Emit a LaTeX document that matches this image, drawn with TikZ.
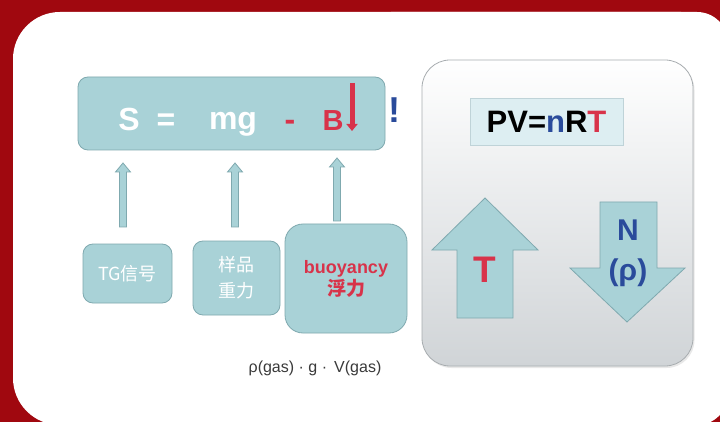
\documentclass[tikz,border=0pt]{standalone}
\usepackage{fontspec}
\setmainfont{Liberation Sans}
\newfontfamily\cjk{Noto Sans CJK SC}
\usetikzlibrary{arrows.meta,calc,shadows}
\definecolor{framered}{HTML}{A0080F}
\definecolor{tealfill}{HTML}{A9D2D7}
\definecolor{tealdark}{HTML}{7FA9AF}
\definecolor{txtred}{HTML}{D8334A}
\definecolor{txtblue}{HTML}{2A4B9B}
\definecolor{pvfill}{HTML}{DDEEF2}
\definecolor{pvdraw}{HTML}{BFD3D8}
\definecolor{boxgrey}{HTML}{D0D4D7}
\definecolor{boxdraw}{HTML}{A8ADB0}
\definecolor{formgrey}{HTML}{3A3A3A}
\begin{document}
\begin{tikzpicture}[x=1pt,y=-1pt,
  tealbox/.style={draw=tealdark, fill=tealfill, line width=0.8pt, inner sep=0pt},
  bigtxt/.style={font=\bfseries\fontsize{32}{32}\selectfont, inner sep=0pt, anchor=base},
  blockarrow/.style={draw=tealdark, fill=tealfill, line width=0.8pt,
    to path={let \p1=(\tikztostart), \p2=(\tikztotarget) in
      (\x1-3.5pt,\y1) -- (\x1-3.5pt,\y2-9pt) -- (\x1-7.5pt,\y2-9pt) -- (\x1,\y2)
      -- (\x1+7.5pt,\y2-9pt) -- (\x1+3.5pt,\y2-9pt) -- (\x1+3.5pt,\y1) -- cycle}},
  bigarrow/.style={draw=tealdark, fill=tealfill, line width=0.8pt}
]
\useasboundingbox (0,0) rectangle (720,422);
\clip (0,0) rectangle (720,422);
% frame
\fill[framered] (0,0) rectangle (720,422);
\fill[white, rounded corners=47pt] (13,12) rectangle (728,425);
\fill[white, rounded corners=31pt] (360,12) rectangle (728,425);

% formula box
\node[tealbox, rounded corners=10pt, minimum width=307pt, minimum height=73pt] (formula) at (231.5,113.5) {};
\node[bigtxt, text=white] (S) at (129,131) {S};
\node[bigtxt, text=white] (eq) at (166,131) {=};
\node[bigtxt, text=white] (mg) at (233,130) {mg};
\node[bigtxt, text=txtred] (minus) at (290,131) {-};
\node[bigtxt, text=txtred, font=\bfseries\fontsize{29}{29}\selectfont] (B) at (333,131) {B};
\coordinate (rtop) at (352,83);
\coordinate (rbot) at (352,131);
\draw[txtred, line width=5pt, -{Triangle[width=11pt,length=7pt]}] (rtop) -- (rbot);
\node[font=\bfseries\fontsize{36}{36}\selectfont, text=txtblue, inner sep=0pt, anchor=base] (excl) at (394,123) {!};

% bottom boxes
\node[tealbox, rounded corners=10pt, minimum width=89pt, minimum height=59pt,
  font=\cjk\fontsize{18}{20}\selectfont, text=white] (tg) at (127.5,273.5) {TG信号};
\node[tealbox, rounded corners=10pt, minimum width=87pt, minimum height=74pt, align=center,
  font=\cjk\fontsize{18}{26}\selectfont, text=white] (yp) at (236.5,278) {样品\\重力};
\node[tealbox, rounded corners=18pt, minimum width=122pt, minimum height=109pt, align=center,
  font=\bfseries\fontsize{18}{22}\selectfont, text=txtred] (buoy) at (346,278.5)
  {buoyancy\\{\cjk\fontsize{19}{20}\selectfont 浮力}};

% small connectors
\coordinate (a1b) at (123,227); \coordinate (a1t) at (123,163);
\coordinate (a2b) at (235,227); \coordinate (a2t) at (235,163);
\coordinate (a3b) at (337,221); \coordinate (a3t) at (337,158);
\draw[blockarrow] (a1b) to (a1t);
\draw[blockarrow] (a2b) to (a2t);
\draw[blockarrow] (a3b) to (a3t);

\node[text=formgrey, font=\fontsize{16}{16}\selectfont, inner sep=0pt] (rho) at (315,368) {ρ(gas) · g ·\, V(gas)};

% right panel
\node[draw=boxdraw, line width=0.8pt, rounded corners=28pt, minimum width=271pt, minimum height=306pt,
  top color=white, middle color=white!92!boxgrey, bottom color=boxgrey,
  drop shadow={opacity=0.18, shadow xshift=1.5pt, shadow yshift=-2pt}] (panel) at (557.5,213) {};
\node[draw=pvdraw, fill=pvfill, line width=0.6pt, minimum width=153pt, minimum height=47pt] (pv) at (546.5,121.5)
  {\bfseries\fontsize{31}{31}\selectfont PV=\textcolor{txtblue}{n}R\textcolor{txtred}{T}};

\draw[bigarrow] (485,198) -- (538,250) -- (513,250) -- (513,318) -- (457,318) -- (457,250) -- (432,250) -- cycle;
\draw[bigarrow] (600,202) -- (657,202) -- (657,268) -- (685,268) -- (627,322) -- (570,268) -- (600,268) -- cycle;
\node[font=\bfseries\fontsize{37}{37}\selectfont, text=txtred, inner sep=0pt] (T) at (485,270) {T};
\node[font=\bfseries\fontsize{30}{30}\selectfont, text=txtblue, inner sep=0pt] (N) at (628,230) {N};
\node[font=\bfseries\fontsize{30}{30}\selectfont, text=txtblue, inner sep=0pt] (rhoN) at (628,273) {(ρ)};
\end{tikzpicture}
\end{document}
